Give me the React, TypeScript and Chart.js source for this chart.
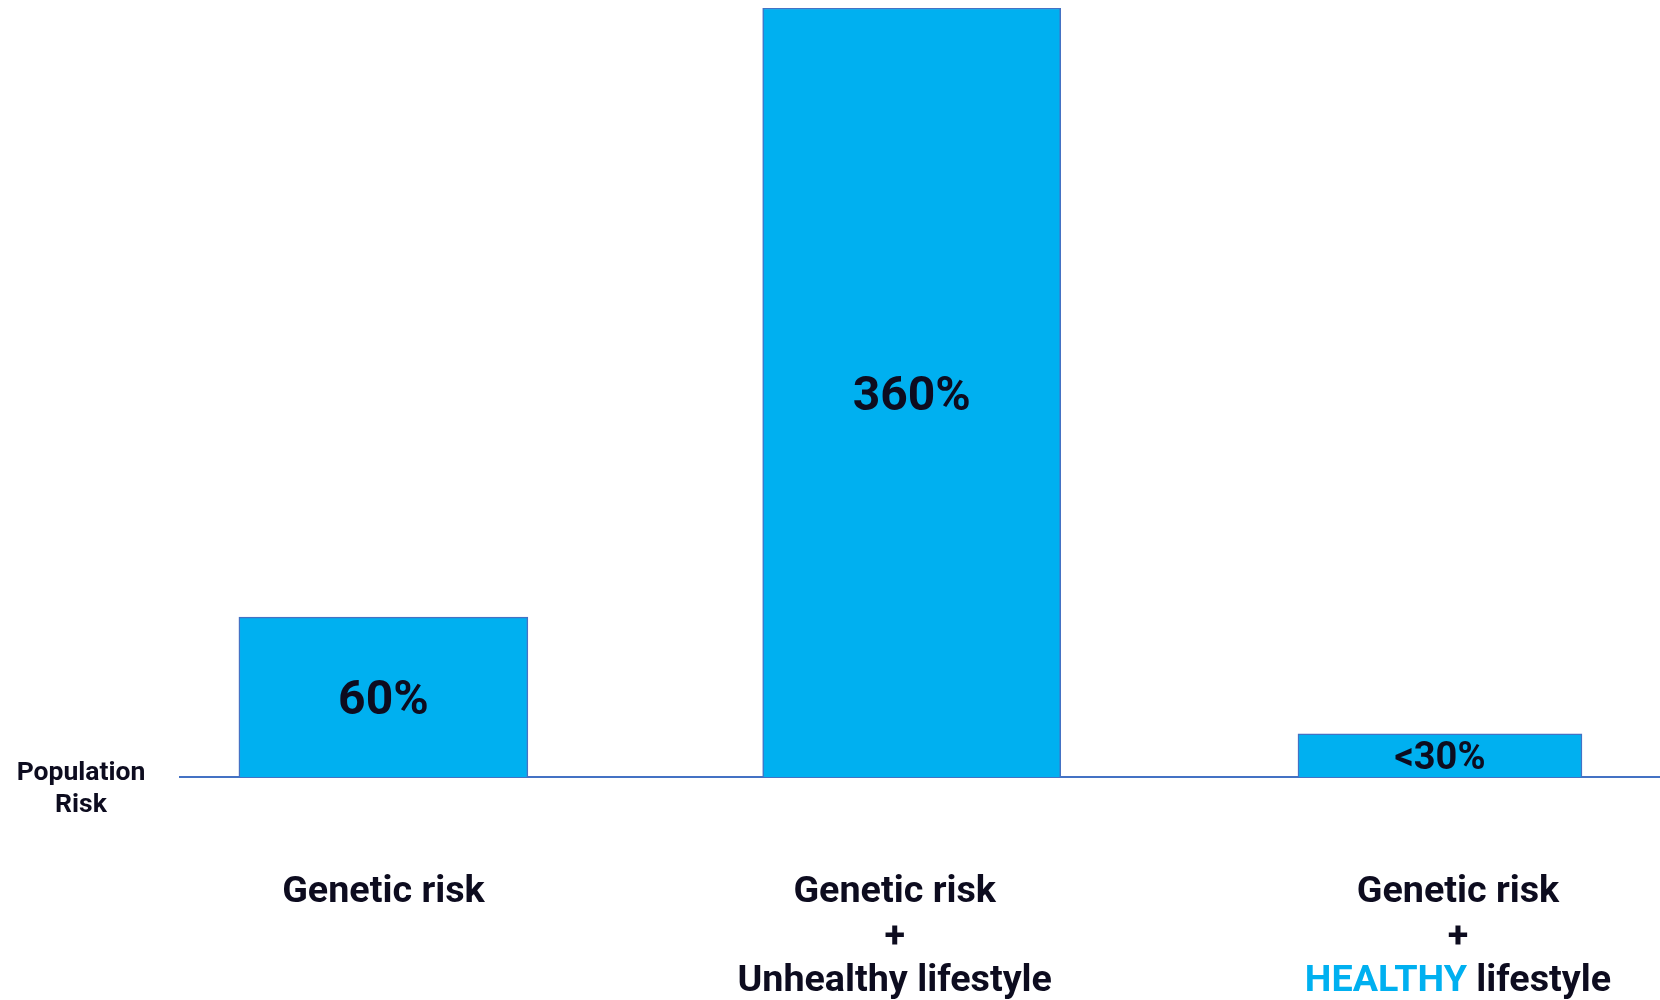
import React, { useEffect, useRef } from "react";
import { Chart, registerables } from "chart.js";

Chart.register(...registerables);

// ---- data ----
const CATEGORIES = ["Genetic risk", "Genetic risk + Unhealthy lifestyle", "Genetic risk + HEALTHY lifestyle"];
// relative bar heights as drawn (tallest bar = 100)
const BAR_HEIGHTS = [20.8, 100, 5.6];
const VALUE_LABELS = ["60%", "360%", "<30%"];
const CATEGORY_LINES: string[][] = [
  ["Genetic risk"],
  ["Genetic risk", "+", "Unhealthy lifestyle"],
  ["Genetic risk", "+", "HEALTHY lifestyle"],
];
const HIGHLIGHT_WORD = "HEALTHY";
const BASELINE_LABEL = ["Population", "Risk"];

// ---- styles ----
const BAR_FILL = "#00B0F0";
const BAR_BORDER = "#4472C4";
const TEXT_COLOR = "#0d0c1f";
const HIGHLIGHT_COLOR = "#00B0F0";
const FONT = "Roboto";
const BAR_WIDTHS = [289, 298, 284];
const VALUE_FONT_SIZES = [48, 48, 38];
const CAT_FONT_SIZE = 37.7;
const CAT_LINE_HEIGHT = 44.5;
const CAT_FIRST_BASELINE = 902;
const LABEL_SHIFT = [0, -17, 18];
const BASE_FONT_SIZE = 26.5;

const labelsPlugin = {
  id: "customLabels",
  afterDatasetsDraw(chart: any) {
    const ctx: CanvasRenderingContext2D = chart.ctx;
    const xScale = chart.scales.x;
    ctx.save();
    // values inside bars
    chart.data.datasets.forEach((_ds: any, i: number) => {
      const meta = chart.getDatasetMeta(i);
      meta.data.forEach((el: any) => {
        if (!el) return;
        const { x, y, base } = el.getProps(["x", "y", "base"], true);
        if (y == null || isNaN(y)) return;
        const size = VALUE_FONT_SIZES[i];
        ctx.font = `bold ${size}px ${FONT}`;
        ctx.fillStyle = TEXT_COLOR;
        ctx.textAlign = "center";
        ctx.textBaseline = "alphabetic";
        const cy = (y + base) / 2;
        ctx.fillText(VALUE_LABELS[i], x, cy + (size * 0.711) / 2);
      });
    });
    // category labels
    ctx.font = `bold ${CAT_FONT_SIZE}px ${FONT}`;
    ctx.textBaseline = "alphabetic";
    CATEGORY_LINES.forEach((lines, i) => {
      const cx = xScale.getPixelForValue(i) + LABEL_SHIFT[i];
      lines.forEach((line, j) => {
        const yy = CAT_FIRST_BASELINE + j * CAT_LINE_HEIGHT;
        if (line.startsWith(HIGHLIGHT_WORD)) {
          const rest = line.slice(HIGHLIGHT_WORD.length);
          const w1 = ctx.measureText(HIGHLIGHT_WORD).width;
          const w2 = ctx.measureText(rest).width;
          const left = cx - (w1 + w2) / 2;
          ctx.textAlign = "left";
          ctx.fillStyle = HIGHLIGHT_COLOR;
          ctx.fillText(HIGHLIGHT_WORD, left, yy);
          ctx.fillStyle = TEXT_COLOR;
          ctx.fillText(rest, left + w1, yy);
        } else {
          ctx.textAlign = "center";
          ctx.fillStyle = TEXT_COLOR;
          ctx.fillText(line, cx, yy);
        }
      });
    });
    // baseline label
    ctx.font = `bold ${BASE_FONT_SIZE}px ${FONT}`;
    ctx.textAlign = "center";
    ctx.fillStyle = TEXT_COLOR;
    BASELINE_LABEL.forEach((t, j) => {
      ctx.fillText(t, 81, 780 + j * 31.5);
    });
    ctx.restore();
  },
};

export default function App() {
  const ref = useRef<HTMLCanvasElement | null>(null);
  useEffect(() => {
    document.body.style.margin = "0";
    const canvas = ref.current!;
    const datasets = BAR_HEIGHTS.map((v, i) => ({
      label: CATEGORIES[i],
      data: [{ x: i, y: v }] as any,
      backgroundColor: BAR_FILL,
      borderColor: BAR_BORDER,
      borderWidth: 1.5,
      barThickness: BAR_WIDTHS[i],
      grouped: false,
    }));
    const chart = new Chart(canvas, {
      type: "bar",
      data: { datasets },
      options: {
        responsive: false,
        animation: false,
        devicePixelRatio: 1,
        layout: { padding: { left: 180, right: 0, top: 8, bottom: 223 } },
        plugins: { legend: { display: false }, tooltip: { enabled: false } },
        scales: {
          x: {
            type: "linear",
            min: -0.385,
            max: 2.4165,
            offset: false,
            ticks: { display: false },
            grid: { display: false, drawTicks: false },
            border: { display: true, color: BAR_BORDER, width: 2 },
          },
          y: { display: false, min: 0, max: 100 },
        },
      } as any,
      plugins: [labelsPlugin],
    });
    return () => chart.destroy();
  }, []);
  return (
    <div style={{ width: 1660, height: 1000, background: "#fff" }}>
      <canvas ref={ref} width={1660} height={1000} style={{ display: "block" }} />
    </div>
  );
}
